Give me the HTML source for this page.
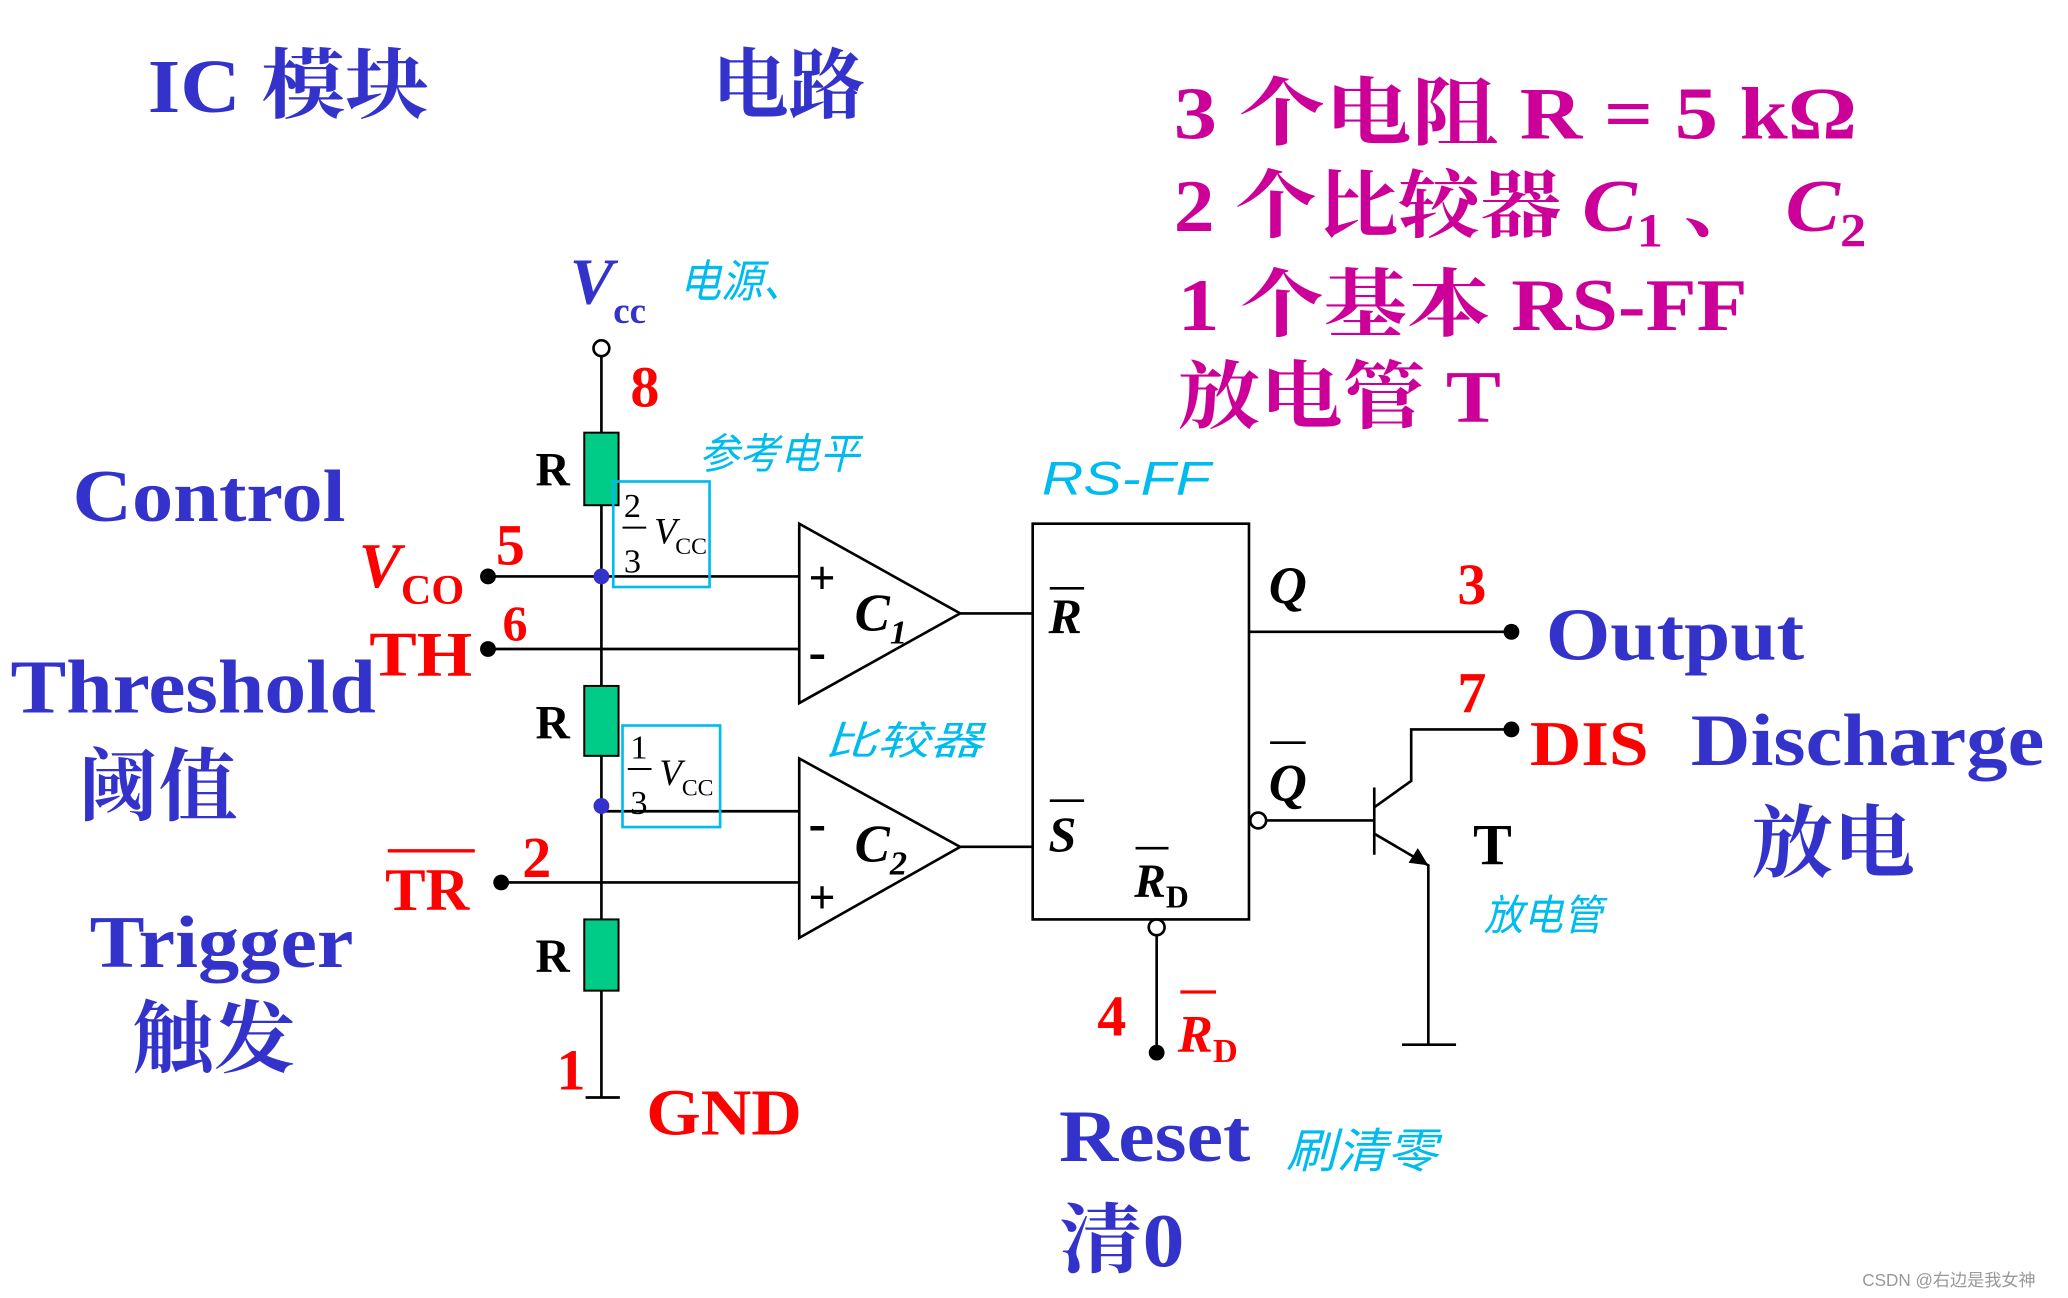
<!DOCTYPE html>
<html><head><meta charset="utf-8"><style>
html,body{margin:0;padding:0;background:#fff;}
svg{display:block;}
.b{fill:#3333cc;font-family:"Liberation Serif","Noto Serif CJK SC",serif;font-weight:bold;}
.m{fill:#cc0099;font-family:"Liberation Serif","Noto Serif CJK SC",serif;font-weight:bold;}
.r{fill:#ff0000;font-family:"Liberation Serif","Noto Serif CJK SC",serif;font-weight:bold;}
.k{fill:#000;font-family:"Liberation Serif",serif;font-weight:bold;}
.c{fill:#00bbee;font-family:"Liberation Sans","Noto Sans CJK SC",sans-serif;font-style:italic;}
</style></head><body>
<svg width="2068" height="1298" viewBox="0 0 1568 984" preserveAspectRatio="none" xmlns="http://www.w3.org/2000/svg">
<rect width="1568" height="984" fill="#fff"/>
<text class="b" x="112" y="85" font-size="58" textLength="213" lengthAdjust="spacingAndGlyphs">IC 模块</text>
<text class="b" x="540" y="85" font-size="58">电路</text>
<text class="m" x="890" y="105" font-size="56" textLength="518" lengthAdjust="spacingAndGlyphs">3 个电阻  R = 5 kΩ</text>
<text class="m" x="890" y="175" font-size="56" textLength="525" lengthAdjust="spacingAndGlyphs">2 个比较器 <tspan font-style="italic">C</tspan><tspan font-size="36" dy="12">1</tspan><tspan dy="-12"> 、 </tspan><tspan font-style="italic">C</tspan><tspan font-size="36" dy="12">2</tspan></text>
<text class="m" x="893" y="250" font-size="56" textLength="432" lengthAdjust="spacingAndGlyphs">1 个基本 RS-FF</text>
<text class="m" x="893" y="320" font-size="56" textLength="245" lengthAdjust="spacingAndGlyphs">放电管 T</text>

<text class="b" x="432" y="230" font-size="50" font-style="italic">V</text>
<text class="b" x="465" y="245" font-size="28">cc</text>
<text class="c" x="515" y="225" font-size="34" textLength="95" lengthAdjust="spacingAndGlyphs">电源、</text>
<text class="c" x="530" y="355" font-size="32" textLength="122" lengthAdjust="spacingAndGlyphs">参考电平</text>
<text class="c" x="790" y="375" font-size="36" textLength="128" lengthAdjust="spacingAndGlyphs">RS-FF</text>
<text class="c" x="625" y="572" font-size="30" textLength="120" lengthAdjust="spacingAndGlyphs">比较器</text>
<text class="c" x="1125" y="705" font-size="32" textLength="90" lengthAdjust="spacingAndGlyphs">放电管</text>
<text class="c" x="975" y="885" font-size="36" textLength="115" lengthAdjust="spacingAndGlyphs">刷清零</text>

<g stroke="#000" stroke-width="2" fill="none">
<circle cx="456" cy="264" r="6"/>
<line x1="456" y1="270" x2="456" y2="832"/>
<line x1="444" y1="832" x2="470" y2="832"/>
<line x1="370" y1="437" x2="606" y2="437"/>
<line x1="370" y1="492" x2="606" y2="492"/>
<line x1="456" y1="615" x2="606" y2="615"/>
<line x1="380" y1="669" x2="606" y2="669"/>
<polygon points="606,397 606,533 728,465"/>
<polygon points="606,575 606,711 728,642"/>
<line x1="728" y1="465" x2="783" y2="465"/>
<line x1="728" y1="642" x2="783" y2="642"/>
<rect x="783" y="397" width="164" height="300"/>
<line x1="947" y1="479" x2="1146" y2="479"/>
<circle cx="954" cy="622" r="6"/>
<line x1="960" y1="622" x2="1042" y2="622"/>
<line x1="1042" y1="597" x2="1042" y2="648"/>
<polyline points="1042,612 1070,592 1070,553 1146,553"/>
<polyline points="1042,632 1083,656 1083,792"/>
<line x1="1063" y1="792" x2="1104" y2="792"/>
<circle cx="877" cy="703" r="6"/>
<line x1="877" y1="709" x2="877" y2="798"/>
</g>
<polygon points="1083,656 1068,654 1075,643" fill="#000"/>
<g fill="#00cc88" stroke="#000" stroke-width="1.5">
<rect x="443" y="328" width="26" height="55"/>
<rect x="443" y="520" width="26" height="53"/>
<rect x="443" y="697" width="26" height="54"/>
</g>
<g fill="none" stroke="#00bbee" stroke-width="2">
<rect x="465" y="365" width="73" height="80"/>
<rect x="472" y="550" width="74" height="77"/>
</g>
<g fill="#000">
<circle cx="370" cy="437" r="6"/><circle cx="370" cy="492" r="6"/><circle cx="380" cy="669" r="6"/>
<circle cx="1146" cy="479" r="6"/><circle cx="1146" cy="553" r="6"/><circle cx="877" cy="798" r="6"/>
</g>
<circle cx="456" cy="437" r="6" fill="#3333cc"/><circle cx="456" cy="611" r="6" fill="#3333cc"/>

<g font-family="Liberation Serif,serif" fill="#000">
<text x="473" y="392" font-size="26">2</text><line x1="472" y1="400" x2="490" y2="400" stroke="#000" stroke-width="1.5"/><text x="473" y="434" font-size="26">3</text>
<text x="496" y="412" font-size="28" font-style="italic">V</text><text x="512" y="420" font-size="18">CC</text>
<text x="478" y="575" font-size="26">1</text><line x1="476" y1="583" x2="494" y2="583" stroke="#000" stroke-width="1.5"/><text x="478" y="617" font-size="26">3</text>
<text x="500" y="595" font-size="28" font-style="italic">V</text><text x="517" y="603" font-size="18">CC</text>
</g>

<text class="k" x="406" y="368" font-size="36">R</text>
<text class="k" x="406" y="560" font-size="36">R</text>
<text class="k" x="406" y="737" font-size="36">R</text>
<text class="k" x="613" y="450" font-size="36">+</text>
<text class="k" x="613" y="507" font-size="40">-</text>
<text class="k" x="613" y="637" font-size="40">-</text>
<text class="k" x="613" y="692" font-size="36">+</text>
<text class="k" x="648" y="478" font-size="40" font-style="italic">C<tspan font-size="26" dy="10">1</tspan></text>
<text class="k" x="648" y="653" font-size="40" font-style="italic">C<tspan font-size="26" dy="10">2</tspan></text>
<text class="k" x="795" y="480" font-size="38" font-style="italic">R</text><line x1="796" y1="446" x2="822" y2="446" stroke="#000" stroke-width="2"/>
<text class="k" x="795" y="645" font-size="38" font-style="italic">S</text><line x1="796" y1="607" x2="822" y2="607" stroke="#000" stroke-width="2"/>
<text class="k" x="860" y="680" font-size="36" font-style="italic">R<tspan font-size="24" dy="8" font-style="normal">D</tspan></text><line x1="861" y1="643" x2="886" y2="643" stroke="#000" stroke-width="2"/>
<text class="k" x="962" y="457" font-size="40" font-style="italic">Q</text>
<text class="k" x="962" y="607" font-size="40" font-style="italic">Q</text><line x1="963" y1="563" x2="990" y2="563" stroke="#000" stroke-width="2"/>
<text class="k" x="1117" y="655" font-size="44">T</text>

<text class="r" x="478" y="308" font-size="44">8</text>
<text class="r" x="376" y="428" font-size="44">5</text>
<text class="r" x="381" y="485" font-size="38">6</text>
<text class="r" x="396" y="665" font-size="44">2</text>
<text class="r" x="422" y="826" font-size="44">1</text>
<text class="r" x="1105" y="458" font-size="44">3</text>
<text class="r" x="1105" y="540" font-size="44">7</text>
<text class="r" x="832" y="785" font-size="44">4</text>
<text class="r" x="272" y="445" font-size="48" font-style="italic">V</text><text class="r" x="304" y="458" font-size="32">CO</text>
<text class="r" x="280" y="512" font-size="48" textLength="78" lengthAdjust="spacingAndGlyphs">TH</text>
<text class="r" x="292" y="690" font-size="46">TR</text><line x1="294" y1="645" x2="360" y2="645" stroke="#ff0000" stroke-width="2.5"/>
<text class="r" x="893" y="797" font-size="40" font-style="italic">R<tspan font-size="26" dy="8" font-style="normal">D</tspan></text><line x1="895" y1="752" x2="922" y2="752" stroke="#ff0000" stroke-width="2.5"/>
<text class="r" x="1160" y="580" font-size="48" textLength="90" lengthAdjust="spacingAndGlyphs">DIS</text>
<text class="r" x="490" y="860" font-size="50" textLength="118" lengthAdjust="spacingAndGlyphs">GND</text>

<text class="b" x="55" y="395" font-size="56" textLength="207" lengthAdjust="spacingAndGlyphs">Control</text>
<text class="b" x="8" y="540" font-size="58" textLength="277" lengthAdjust="spacingAndGlyphs">Threshold</text>
<text class="b" x="60" y="617" font-size="60" textLength="120" lengthAdjust="spacingAndGlyphs">阈值</text>
<text class="b" x="68" y="733" font-size="56" textLength="200" lengthAdjust="spacingAndGlyphs">Trigger</text>
<text class="b" x="100" y="808" font-size="60" textLength="124" lengthAdjust="spacingAndGlyphs">触发</text>
<text class="b" x="1172" y="500" font-size="56" textLength="196" lengthAdjust="spacingAndGlyphs">Output</text>
<text class="b" x="1282" y="580" font-size="56" textLength="268" lengthAdjust="spacingAndGlyphs">Discharge</text>
<text class="b" x="1328" y="660" font-size="60" textLength="124" lengthAdjust="spacingAndGlyphs">放电</text>
<text class="b" x="803" y="880" font-size="56" textLength="145" lengthAdjust="spacingAndGlyphs">Reset</text>
<text class="b" x="803" y="960" font-size="58" textLength="95" lengthAdjust="spacingAndGlyphs">清0</text>
<text x="1412" y="975" font-size="13" fill="#999" font-family="Liberation Sans,Noto Sans CJK SC,sans-serif">CSDN @右边是我女神</text>
</svg>
</body></html>
